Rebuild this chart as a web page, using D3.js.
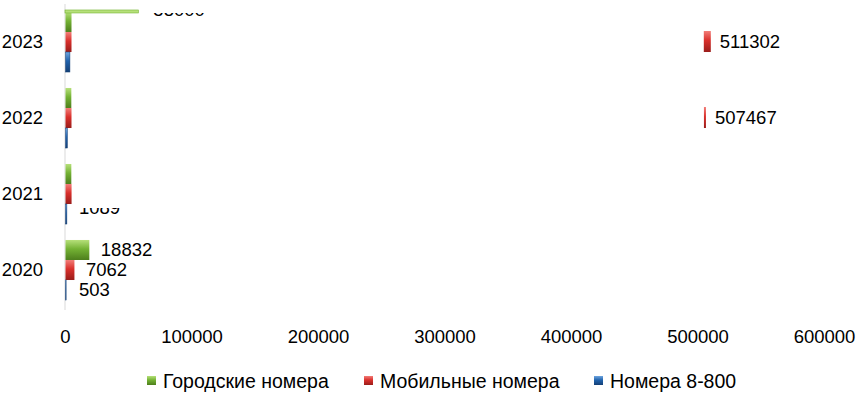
<!DOCTYPE html>
<html>
<head>
<meta charset="utf-8">
<script src="https://cdn.jsdelivr.net/npm/d3@7"></script>
<style>
body { margin: 0; background: #fff; }
text { font-family: "Liberation Sans", Arial, sans-serif; fill: #000; }
</style>
</head>
<body>
<div id="chart"></div>
<script>
var years = ["2023", "2022", "2021", "2020"];
var seriesNames = ["Городские номера", "Мобильные номера", "Номера 8-800"];
var cityNums = [58000, 4600, 4600, 18832];
var mobileNums = [511302, 507467, 4800, 7062];
var tollFree = [3500, 1500, 1089, 503];
// which data labels are visible in the picture
var cityLabels = [true, false, false, true];
var mobileLabels = [true, true, false, true];
var tollLabels = [false, false, true, true];
var xTicks = [0, 100000, 200000, 300000, 400000, 500000, 600000];

drawChart();

function drawChart() {
	var svg = d3.select("#chart").append("svg")
		.attr("width", 857)
		.attr("height", 395);

	var x0 = 65;
	var xScale = d3.scaleLinear().domain([0, 600000]).range([x0, 824]);
	var yScale = d3.scaleBand().domain(years).range([4, 308])
		.paddingInner(0.21).paddingOuter(0.105);
	var sub = d3.scaleBand().domain(seriesNames).range([0, yScale.bandwidth()]);

	var colors = ["#74b234", "#d9302c", "#2163ad"];
	var light = ["#b6e07a", "#f27d78", "#6fa6e0"];
	var dark = ["#4d7e1c", "#9a1d1a", "#143f75"];

	var defs = svg.append("defs");
	colors.forEach(function(c, i) {
		var gr = defs.append("linearGradient").attr("id", "g" + i)
			.attr("x1", 0).attr("y1", 0).attr("x2", 0).attr("y2", 1);
		gr.append("stop").attr("offset", "0%").attr("stop-color", light[i]);
		gr.append("stop").attr("offset", "45%").attr("stop-color", c);
		gr.append("stop").attr("offset", "100%").attr("stop-color", dark[i]);
	});

	// vertical axis line
	svg.append("line")
		.attr("x1", x0).attr("x2", x0)
		.attr("y1", 4).attr("y2", 310)
		.style("stroke", "#d9d9d9").style("stroke-width", 1);

	// category labels
	svg.selectAll(".cat").data(years).enter().append("text")
		.attr("class", "cat")
		.attr("x", 43)
		.attr("y", function(d) { return yScale(d) + yScale.bandwidth() / 2; })
		.attr("dy", ".35em")
		.style("text-anchor", "end")
		.style("font-size", "18.5px")
		.text(function(d) { return d; });

	// x axis
	var xAxis = d3.axisBottom(xScale).tickValues(xTicks).tickSize(0).tickPadding(0)
		.tickFormat(d3.format("d"));
	var ax = svg.append("g").attr("transform", "translate(0,330)").call(xAxis);
	ax.select(".domain").remove();
	ax.selectAll("text").style("font-size", "18.5px").attr("dy", ".71em")
		.style("font-family", "'Liberation Sans', Arial, sans-serif");

	var allValues = [cityNums, mobileNums, tollFree];
	var allLabels = [cityLabels, mobileLabels, tollLabels];

	// the picture's plot area cuts a couple of labels
	var clip = defs.append("clipPath").attr("id", "plotclip");
	clip.append("rect").attr("x", 0).attr("y", 13).attr("width", 857).attr("height", 182);
	clip.append("rect").attr("x", 0).attr("y", 208).attr("width", 857).attr("height", 110);
	clip.append("rect").attr("x", 200).attr("y", 13).attr("width", 657).attr("height", 200);

	allValues.forEach(function(vals, s) {
		var data = years.map(function(y, i) { return { year: y, v: vals[i], show: allLabels[s][i] }; });
		var g = svg.append("g");
		var big = function(d) { return d.v > 50000; };

		// bar bodies (large values collapse to a stub, as in the picture)
		g.selectAll("rect.bar").data(data).enter().append("rect")
			.attr("class", "bar")
			.attr("x", x0 + 0.5)
			.attr("y", function(d) { return yScale(d.year) + sub(seriesNames[s]); })
			.attr("width", function(d) { return big(d) ? 6 : Math.max(0, xScale(d.v) - x0); })
			.attr("height", sub.bandwidth())
			.style("fill", "url(#g" + s + ")")
			.style("stroke", s == 2 ? dark[s] : "none")
			.style("stroke-width", 0.5);

		var far = data.filter(big);
		if (s == 0) {
			// thin top edge reaching the value
			g.selectAll("rect.edge").data(far).enter().append("rect")
				.attr("class", "edge")
				.attr("x", x0)
				.attr("y", function(d) { return yScale(d.year) + sub(seriesNames[s]) - 2; })
				.attr("width", function(d) { return xScale(d.v) - x0; })
				.attr("height", 3)
				.style("fill", light[s])
				.style("stroke", colors[s])
				.style("stroke-width", 0.6);
		} else {
			// end cap at the value
			g.selectAll("rect.cap").data(far).enter().append("rect")
				.attr("class", "cap")
				.attr("x", function(d, i) { return xScale(d.v) - (i == 0 ? 8 : 3); })
				.attr("y", function(d) { return yScale(d.year) + sub(seriesNames[s]) - 1; })
				.attr("width", function(d, i) { return i == 0 ? 7 : 2; })
				.attr("height", sub.bandwidth() + 1)
				.style("fill", "url(#g" + s + ")");
		}

		// data labels
		g.append("g").attr("clip-path", "url(#plotclip)")
			.selectAll("text").data(data.filter(function(d) { return d.show; }))
			.enter().append("text")
			.attr("x", function(d) {
				var end = Math.max(xScale(d.v), x0 + 2);
				if (s == 0 && big(d)) return end + 15;
				return end + (big(d) ? 8 : 12);
			})
			.attr("y", function(d) {
				var yc = yScale(d.year) + sub(seriesNames[s]) + sub.bandwidth() / 2;
				if (s == 0 && big(d)) return 10;
				if (s == 2 && d.year == "2021") return yc - 6;
				return yc;
			})
			.attr("dy", ".35em")
			.style("font-size", "18.5px")
			.text(function(d) { return d.v; });
	});

	// legend
	var legX = [147, 364, 594];
	var legend = svg.selectAll(".legend").data(seriesNames).enter().append("g")
		.attr("class", "legend")
		.attr("transform", function(d, i) { return "translate(" + legX[i] + ",381)"; });
	legend.append("rect")
		.attr("x", 0).attr("y", -5)
		.attr("width", 9).attr("height", 9)
		.style("fill", function(d, i) { return "url(#g" + i + ")"; });
	legend.append("text")
		.attr("x", 16).attr("y", 0)
		.attr("dy", ".35em")
		.style("font-size", "19.5px")
		.text(function(d) { return d; });
}
</script>
</body>
</html>
